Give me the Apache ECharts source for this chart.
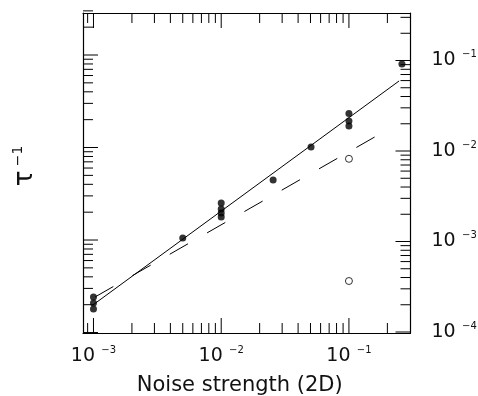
<!DOCTYPE html>
<html><head><meta charset="utf-8">
<script src="https://cdn.jsdelivr.net/npm/echarts@6.0.0/dist/echarts.min.js"></script>
<style>html,body{margin:0;padding:0;background:#fff}#c{width:478px;height:396px}</style>
</head><body><div id="c"></div>
<script>
// ---- data ----
const filledX = [1e-3, 1e-3, 1e-3, 5.0e-3, 1e-2, 1e-2, 1e-2, 1e-2, 2.55e-2, 5.05e-2, 0.1, 0.1, 0.1, 0.26];
const filledY = [2.44e-4, 2.09e-4, 1.79e-4, 1.09e-3, 2.66e-3, 2.28e-3, 2.06e-3, 1.87e-3, 4.79e-3, 1.11e-2, 2.6e-2, 2.15e-2, 1.89e-2, 9.15e-2];
const openX = [0.1, 0.1];
const openY = [8.2e-3, 3.66e-4];
const solidFitX = [9.9e-4, 0.247];
const solidFitY = [1.99e-4, 0.0594];
const dashFitX = [1.03e-3, 0.169];
const dashFitY = [2.44e-4, 0.0150];
const xLabelExps = [-3, -2, -1];
const yLabelExps = [-4, -3, -2, -1];
const xMajorTicks = [1e-3, 1e-2, 1e-1];
const xMinorTicks = [9e-4, 2e-3, 3e-3, 4e-3, 5e-3, 6e-3, 7e-3, 8e-3, 9e-3, 2e-2, 3e-2, 4e-2, 5e-2, 6e-2, 7e-2, 8e-2, 9e-2, 2e-1];
const yMajorTicks = [1e-4, 1e-3, 1e-2, 1e-1];
const yMinorTicks = [2e-4, 3e-4, 4e-4, 5e-4, 6e-4, 7e-4, 8e-4, 9e-4, 2e-3, 3e-3, 4e-3, 5e-3, 6e-3, 7e-3, 8e-3, 9e-3, 2e-2, 3e-2, 4e-2, 5e-2, 6e-2, 7e-2, 8e-2, 9e-2, 2e-1, 3e-1];

const FONT = 'DejaVu Sans';
const xMin = Math.pow(10, -3.082), xMax = Math.pow(10, -0.518);
const yMinR = Math.pow(10, -4.011), yMaxR = Math.pow(10, -0.475);
const yMinL = Math.pow(10, -4.005), yMaxL = Math.pow(10, -0.546);

function expLabel(exps) {
  return function (v) {
    const l = Math.log10(v);
    const e = Math.round(l);
    if (Math.abs(l - e) > 0.01 || exps.indexOf(e) < 0) return '';
    return '{m|10}{s|  \u2212' + Math.abs(e) + '}';
  };
}
const rich = {
  m: {fontSize: 19, fontFamily: FONT, color: '#111', lineHeight: 22},
  s: {fontSize: 10, fontFamily: FONT, color: '#111', verticalAlign: 'top', lineHeight: 10}
};

function tickRender(side) {
  return function (params, api) {
    const cs = params.coordSys;
    const len = api.value(2) ? 15 : 10;
    const p = api.coord([api.value(0), api.value(1)]);
    const st = {stroke: '#000', lineWidth: 1};
    if (side === 'x') {
      const b = cs.y + cs.height, t = cs.y;
      return {type: 'group', children: [
        {type: 'line', shape: {x1: p[0], y1: b, x2: p[0], y2: b - len}, style: st},
        {type: 'line', shape: {x1: p[0], y1: t, x2: p[0], y2: t + len}, style: st}
      ]};
    } else if (side === 'right') {
      const r = cs.x + cs.width;
      return {type: 'line', shape: {x1: r, y1: p[1], x2: r - len, y2: p[1]}, style: st};
    } else {
      const l = cs.x;
      return {type: 'line', shape: {x1: l, y1: p[1], x2: l + len, y2: p[1]}, style: st};
    }
  };
}

const chart = echarts.init(document.getElementById('c'), null, {renderer: 'canvas'});
const axisLineStyle = {show: true, onZero: false, lineStyle: {color: '#000', width: 1.2}};
chart.setOption({
  animation: false,
  backgroundColor: '#fff',
  grid: {left: 83, top: 13, right: 67.5, bottom: 63, containLabel: false, outerBoundsMode: 'none'},
  xAxis: [
    {type: 'log', logBase: 10, min: xMin, max: xMax, position: 'bottom',
     axisLine: axisLineStyle, axisTick: {show: false}, splitLine: {show: false},
     axisLabel: {show: true, formatter: expLabel(xLabelExps), rich: rich, margin: 12, showMinLabel: false, showMaxLabel: false},
     name: 'Noise strength (2D)', nameLocation: 'middle', nameGap: 42,
     nameTextStyle: {fontSize: 21, fontFamily: FONT, color: '#111', padding: [0, 14, 0, 0]}},
    {type: 'log', logBase: 10, min: xMin, max: xMax, position: 'top',
     axisLine: axisLineStyle, axisTick: {show: false}, splitLine: {show: false}, axisLabel: {show: false}}
  ],
  yAxis: [
    {type: 'log', logBase: 10, min: yMinR, max: yMaxR, position: 'right',
     axisLine: axisLineStyle, axisTick: {show: false}, splitLine: {show: false},
     axisLabel: {show: true, formatter: expLabel(yLabelExps), rich: rich, margin: 21, showMinLabel: false, showMaxLabel: false}},
    {type: 'log', logBase: 10, min: yMinL, max: yMaxL, position: 'left',
     axisLine: axisLineStyle, axisTick: {show: false}, splitLine: {show: false}, axisLabel: {show: false}}
  ],
  graphic: [{
    type: 'text', x: 25, y: 166, rotation: Math.PI / 2,
    style: {text: '{t|\u03c4}{e| \u22121}', align: 'center', verticalAlign: 'middle',
      rich: {t: {fontSize: 26, fontFamily: FONT, fill: '#111', lineHeight: 28},
             e: {fontSize: 14, fontFamily: FONT, fill: '#111', verticalAlign: 'top', lineHeight: 14}}}
  }],
  series: [
    {type: 'custom', xAxisIndex: 0, yAxisIndex: 0, renderItem: tickRender('x'), silent: true, clip: false,
     data: xMajorTicks.map(v => [v, 1e-2, 1]).concat(xMinorTicks.map(v => [v, 1e-2, 0])), z: 1},
    {type: 'custom', xAxisIndex: 0, yAxisIndex: 0, renderItem: tickRender('right'), silent: true, clip: false,
     data: yMajorTicks.map(v => [1e-2, v, 1]).concat(yMinorTicks.map(v => [1e-2, v, 0])), z: 1},
    {type: 'custom', xAxisIndex: 0, yAxisIndex: 1, renderItem: tickRender('left'), silent: true, clip: false,
     data: yMajorTicks.map(v => [1e-2, v, 1]).concat(yMinorTicks.map(v => [1e-2, v, 0])), z: 1},
    {type: 'line', xAxisIndex: 0, yAxisIndex: 0, data: solidFitX.map((x, i) => [x, solidFitY[i]]),
     symbol: 'none', lineStyle: {color: '#000', width: 1}, z: 2},
    {type: 'line', xAxisIndex: 0, yAxisIndex: 0, data: dashFitX.map((x, i) => [x, dashFitY[i]]),
     symbol: 'none', lineStyle: {color: '#000', width: 1, type: [21, 22]}, z: 2},
    {type: 'scatter', xAxisIndex: 0, yAxisIndex: 0, data: filledX.map((x, i) => [x, filledY[i]]),
     symbol: 'circle', symbolSize: 7, itemStyle: {color: '#000'}, z: 3},
    {type: 'scatter', xAxisIndex: 0, yAxisIndex: 0, data: openX.map((x, i) => [x, openY[i]]),
     symbol: 'circle', symbolSize: 7, itemStyle: {color: '#fff', borderColor: '#000', borderWidth: 1}, z: 3}
  ]
});
</script>
</body></html>
